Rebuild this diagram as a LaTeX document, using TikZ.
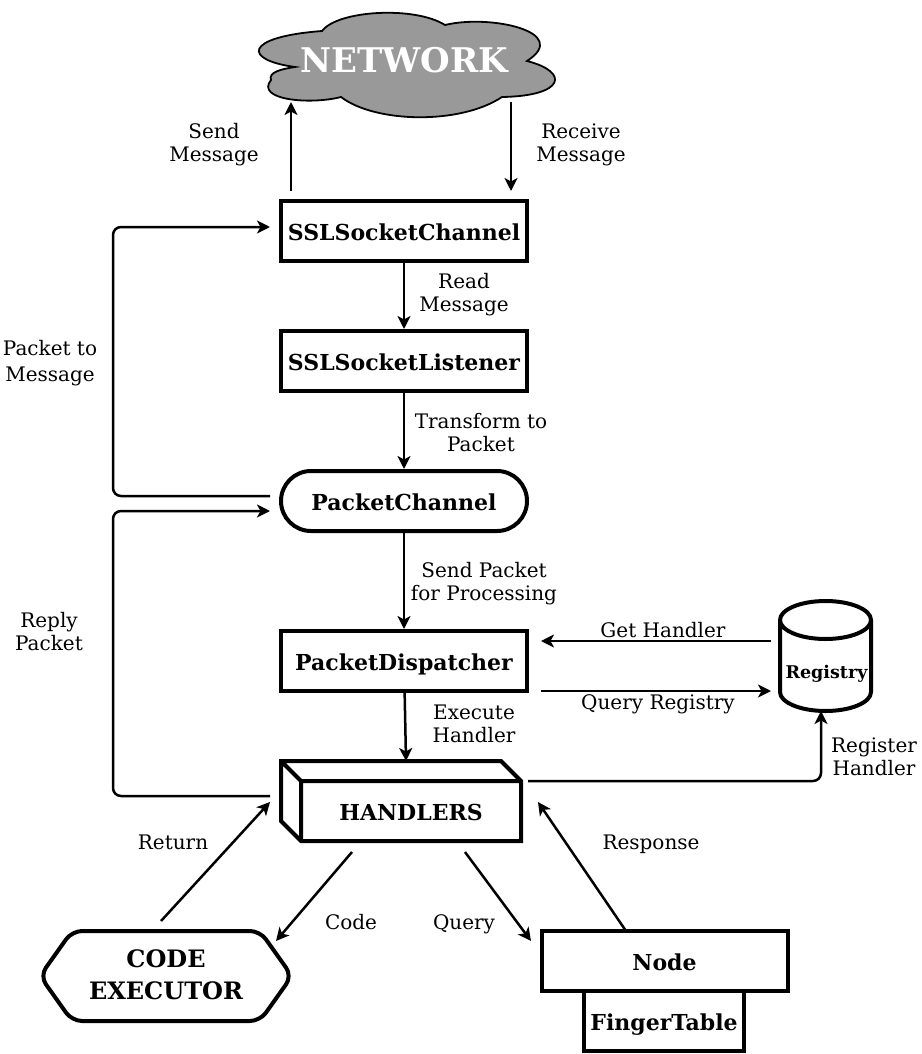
\documentclass[tikz,border=0pt]{standalone}
\usepackage{fontspec}
\setmainfont{DejaVu Serif}
\usetikzlibrary{arrows.meta}

\tikzset{
    block/.style={draw, line width=4pt, minimum width=246pt, minimum height=60pt, inner sep=0pt, text height=18pt, text depth=0pt, font=\fontsize{22}{26}\selectfont\bfseries},
    solid shape/.style={draw, line width=4pt, line join=round},
    title/.style={font=\fontsize{22}{32}\selectfont\bfseries, align=center, inner sep=0pt},
    tag/.style={font=\fontsize{20}{23}\selectfont, align=center, inner sep=0pt}
}

\begin{document}
\begin{tikzpicture}[x=1pt,y=-1pt,>={Stealth[length=13pt,width=13pt,inset=3.5pt]},line width=2.5pt]

            \useasboundingbox (0,0) rectangle (921,1054);

            % cloud on top
            \draw[fill=black!40, line width=1.8pt] (322,31)
                .. controls (338,10) and (415,6) .. (445,25)
                .. controls (490,14) and (572,32) .. (527,61)
                .. controls (570,72) and (565,96) .. (502,97)
                .. controls (460,125) and (375,123) .. (341,97)
                .. controls (310,105) and (255,100) .. (271,80)
                .. controls (268,72) and (282,69) .. (295,67)
                .. controls (243,60) and (243,37) .. (322,31) -- cycle;
            \node[title, font=\fontsize{34}{40}\selectfont\bfseries, text=white] (network) at (404,60) {NETWORK};

            \node[block] (socketchannel) at (404,231) {SSLSocketChannel};
            \node[block] (listener) at (404,361) {SSLSocketListener};
            \node[block, rounded corners=30pt] (packetchannel) at (404,501) {PacketChannel};
            \node[block] (dispatcher) at (404,661) {PacketDispatcher};

            % handlers box
            \draw[solid shape, line join=miter] (281,761) -- (501,761) -- (521,781) -- (521,841) -- (301,841) -- (281,821) -- cycle
                (281,761) -- (301,781) -- (521,781) (301,781) -- (301,841);
            \node[title] (handlers) at (411,812) {HANDLERS};

            % registry
            \draw[solid shape] (780,620) arc[start angle=180, end angle=360, x radius=45.5, y radius=19]
                -- (871,692) arc[start angle=0, end angle=180, x radius=45.5, y radius=19] -- cycle
                (780,620) arc[start angle=180, end angle=0, x radius=45.5, y radius=19];
            \node[title, font=\fontsize{17.5}{20}\selectfont\bfseries] (registry) at (826.5,674) {Registry};

            % code executor
            \draw[solid shape, rounded corners=10pt] (40,976) -- (72,931) -- (260,931) -- (292,976) -- (260,1021) -- (72,1021) -- cycle;
            \node[title, font=\fontsize{24}{32}\selectfont\bfseries] (executor) at (166,975) {CODE\\EXECUTOR};

            \node[block, minimum width=160pt] (fingertable) at (664,1021) {FingerTable};
            \node[block, fill=white] (chord) at (664.5,961) {Node};

            \coordinate (sendfrom) at (291,191);
            \coordinate (sendto) at (291,102);
            \coordinate (receivefrom) at (511,102);
            \coordinate (receiveto) at (511,191);
            \coordinate (backfrom) at (270,496);
            \coordinate (backto) at (270,227);
            \coordinate (replyfrom) at (270,796);
            \coordinate (replyto) at (270,511);
            \coordinate (getfrom) at (771,641);
            \coordinate (getto) at (541,641);
            \coordinate (queryfrom) at (541,691);
            \coordinate (queryto) at (771,691);
            \coordinate (handlerstop) at (406,761);
            \coordinate (registerfrom) at (528,781);
            \coordinate (registerto) at (821,711);
            \coordinate (returnfrom) at (161,921);
            \coordinate (returnto) at (270,802);
            \coordinate (codefrom) at (352,852);
            \coordinate (codeto) at (276,941);
            \coordinate (askfrom) at (465,852);
            \coordinate (askto) at (531,941);
            \coordinate (answerfrom) at (626,931);
            \coordinate (answerto) at (538,802);

            \path[->]

            (sendfrom) edge (sendto)
            (receivefrom) edge (receiveto)
            (socketchannel) edge (listener)
            (listener) edge (packetchannel)
            (packetchannel) edge (dispatcher)
            (dispatcher) edge (handlerstop)
            (getfrom) edge (getto)
            (queryfrom) edge (queryto)
            (returnfrom) edge (returnto)
            (codefrom) edge (codeto)
            (askfrom) edge (askto)
            (answerfrom) edge (answerto)

            ;

            \draw[->, rounded corners=8pt] (backfrom) -- (113,496) -- (113,227) -- (backto);
            \draw[->, rounded corners=8pt] (replyfrom) -- (113,796) -- (113,511) -- (replyto);
            \draw[->, rounded corners=8pt] (registerfrom) -- (821,781) -- (registerto);

            \node[tag] (sendtag) at (214,145) {Send\\Message};
            \node[tag] (receivetag) at (581,145) {Receive\\Message};
            \node[tag] (readtag) at (464,295) {Read\\Message};
            \node[tag] (packettag) at (50,363) {Packet to\\[3pt]Message};
            \node[tag] (transformtag) at (481,433) {Transform to\\Packet};
            \node[tag] (processingtag) at (484,584) {Send Packet\\for Processing};
            \node[tag] (replytag) at (49,632) {Reply\\Packet};
            \node[tag] (gettag) at (663,630) {Get Handler};
            \node[tag] (querytag) at (658,704) {Query Registry};
            \node[tag] (executetag) at (474,724) {Execute\\Handler};
            \node[tag] (registertag) at (874,757) {Register\\Handler};
            \node[tag] (returntag) at (173,842) {Return};
            \node[tag] (responsetag) at (651,844) {Response};
            \node[tag] (codetag) at (351,922) {Code};
            \node[tag] (asktag) at (464,924) {Query};
        \end{tikzpicture}
\end{document}
